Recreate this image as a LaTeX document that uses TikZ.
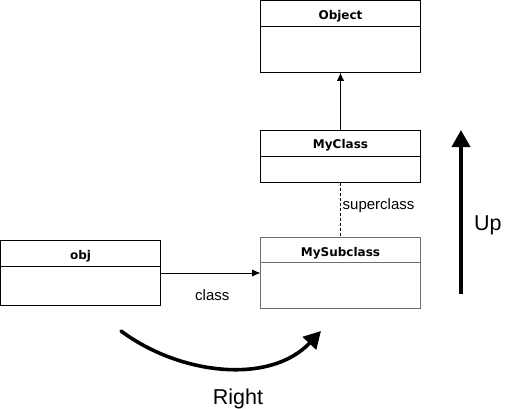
\documentclass[tikz,border=0pt]{standalone}
\usepackage{fontspec}
\setmainfont{Liberation Sans}
\newfontfamily\hdrfont{DejaVu Sans}
\usetikzlibrary{arrows.meta}
\definecolor{subgray}{HTML}{6E6E6E}
\tikzset{
  classbox/.style={draw=black, line width=1pt, minimum width=160pt, inner sep=0pt, outer sep=0pt},
  classtitle/.style={anchor=base, inner sep=0pt, font=\hdrfont\bfseries\fontsize{12}{14}\selectfont},
  divider/.style={line width=1pt},
  lbl/.style={anchor=base west, inner sep=0pt, font=\fontsize{15}{17}\selectfont},
  biglbl/.style={anchor=base west, inner sep=0pt, font=\fontsize{21.5}{24}\selectfont},
  assoc/.style={line width=1pt, -{Latex[length=8.5pt,width=7.5pt]}},
  bigarrow/.style={line width=3.6pt, -{Triangle[length=17pt,width=18pt]}},
}
\begin{document}
\begin{tikzpicture}[x=1pt,y=-1pt]
\useasboundingbox (0,0) rectangle (511,409);
% Object
\node[classbox, minimum height=72pt] (object) at (340.5,36.5) {};
\draw[divider] (object.west |- 0,26.5) -- (object.east |- 0,26.5);
\node[classtitle] (objectT) at (340.5,19.5) {Object};
% MyClass
\node[classbox, minimum height=52pt] (myclass) at (340.5,156.5) {};
\draw[divider] (myclass.west) -- (myclass.east);
\node[classtitle] (myclassT) at (340.5,148.7) {MyClass};
% MySubclass
\node[classbox, draw=subgray, line width=1.8pt, minimum height=71pt] (mysub) at (340.5,273) {};
\draw[divider, draw=subgray, line width=1.8pt] (mysub.west |- 0,262.5) -- (mysub.east |- 0,262.5);
\node[classtitle] (mysubT) at (340.5,256) {MySubclass};
% obj
\node[classbox, minimum height=65pt] (obj) at (80.5,273) {};
\draw[divider] (obj.west |- 0,266.5) -- (obj.east |- 0,266.5);
\node[classtitle] (objT) at (80.5,259.5) {obj};
% connectors
\draw[assoc] (myclass.north) -- (object.south);
\draw[line width=1pt, dash pattern=on 3pt off 2pt] (myclass.south) -- (mysub.north);
\draw[assoc] (obj.east) -- (mysub.west);
% labels
\node[lbl] (classL) at (195,300.5) {class};
\node[lbl] (superL) at (342.5,209.5) {superclass};
% big arrows
\coordinate (upA) at (461,294);
\coordinate (upB) at (461,130);
\draw[bigarrow] (upA) -- (upB);
\node[biglbl] (upL) at (474,230) {Up};
\coordinate (rA) at (121,331);
\coordinate (rB) at (321,331);
\draw[bigarrow, line cap=round] (rA) .. controls (180,375) and (270,385) .. (rB);
\node[biglbl, anchor=base] (rightL) at (238,404) {Right};
\end{tikzpicture}
\end{document}
